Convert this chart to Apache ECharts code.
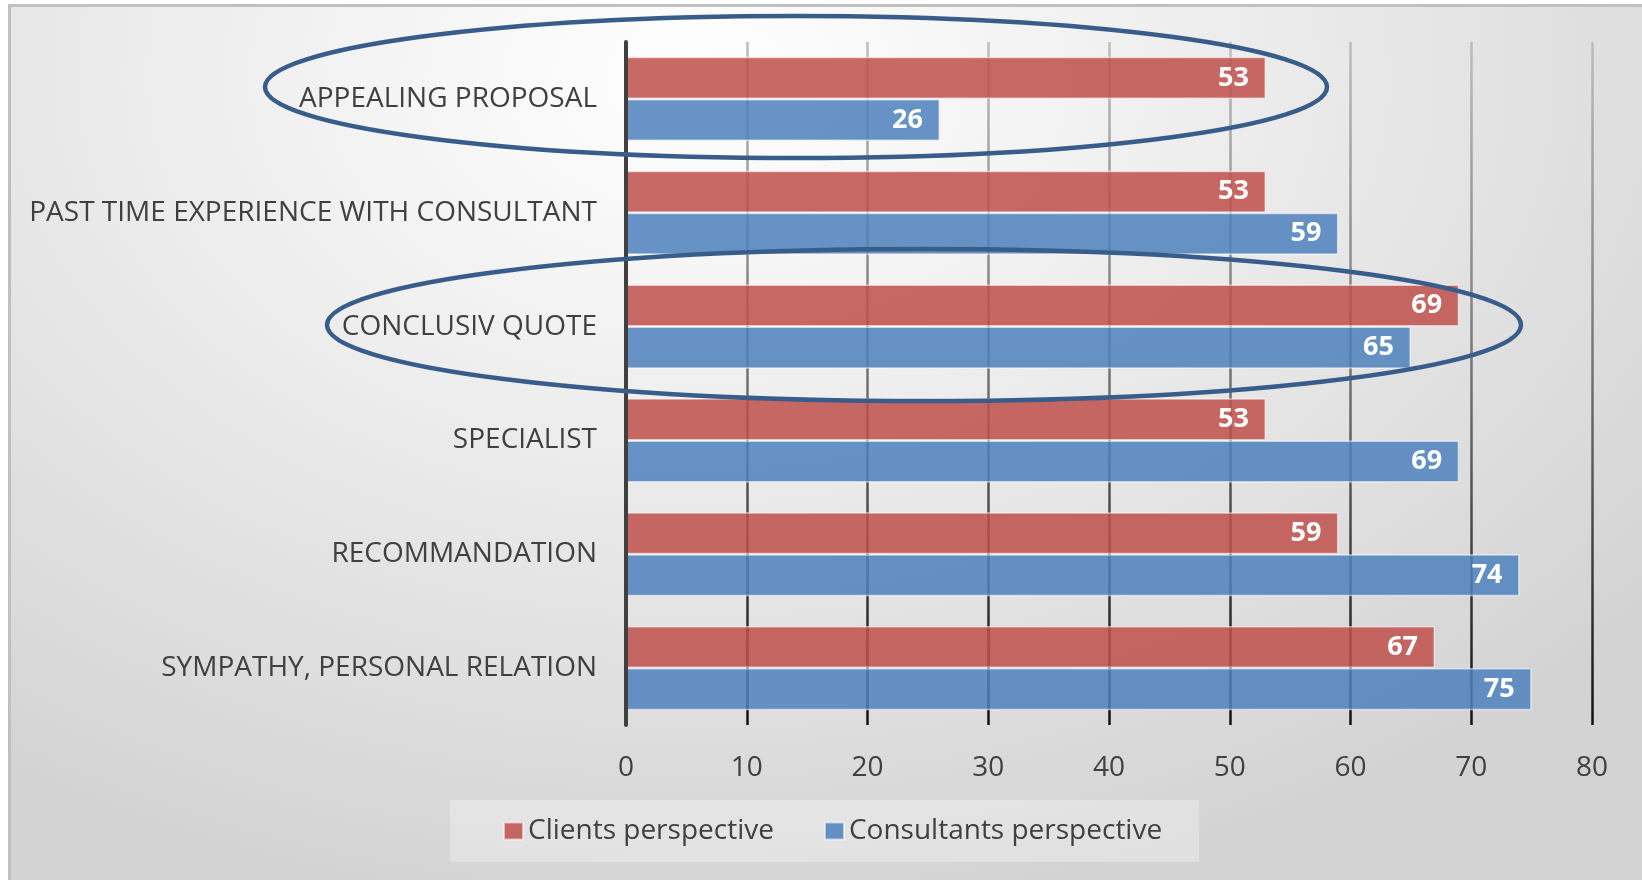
<!DOCTYPE html>
<html>
<head>
<meta charset="utf-8">
<script src="https://cdn.jsdelivr.net/npm/echarts@6/dist/echarts.min.js"></script>
<style>
  html, body { margin: 0; padding: 0; background: #fff; }
  #frame {
    position: absolute; left: 8px; top: 4px; width: 1640px; height: 890px;
    box-sizing: border-box; border: 3px solid #c0c0c0;
    background: radial-gradient(ellipse 75% 95% at 42% 8%, #ffffff 0%, #ececec 45%, #d3d3d3 100%);
  }
  #main { position: absolute; left: 0; top: 0; width: 1642px; height: 880px; }
</style>
</head>
<body>
<div id="frame"></div>
<div id="main"></div>
<script>
// categories top to bottom
const categories = [
  'APPEALING PROPOSAL',
  'PAST TIME EXPERIENCE WITH CONSULTANT',
  'CONCLUSIV QUOTE',
  'SPECIALIST',
  'RECOMMANDATION',
  'SYMPATHY, PERSONAL RELATION'
];
const clients = [53, 53, 69, 53, 59, 67];
const consultants = [26, 59, 65, 69, 74, 75];
const seriesNames = ['Clients perspective', 'Consultants perspective'];

const FONT = '"Open Sans", sans-serif';
const chart = echarts.init(document.getElementById('main'), null, { renderer: 'canvas' });

const barLabel = {
  show: true,
  position: 'insideRight',
  distance: 17,
  color: '#fff',
  fontWeight: 'bold',
  fontSize: 27,
  fontFamily: FONT
};

const option = {
  backgroundColor: 'transparent',
  animation: false,
  grid: { left: 626, right: 50, top: 42, bottom: 155, outerBoundsMode: 'none' },
  legend: {
    left: 450,
    top: 800,
    padding: [17, 37, 17, 53],
    backgroundColor: 'rgba(255,255,255,0.3)',
    itemWidth: 19,
    itemHeight: 17,
    itemGap: 50,
    icon: 'rect',
    textStyle: { fontSize: 28, color: '#404040', fontFamily: FONT },
    data: seriesNames
  },
  xAxis: {
    type: 'value',
    min: 0,
    max: 80,
    interval: 10,
    axisLine: { show: false },
    axisTick: { show: false },
    axisLabel: { fontSize: 28, color: '#404040', fontFamily: FONT, margin: 29 },
    splitLine: {
      lineStyle: {
        width: 2.5,
        color: new echarts.graphic.LinearGradient(0, 42, 0, 725, [
          { offset: 0, color: '#bdbdbd' },
          { offset: 0.5, color: '#707070' },
          { offset: 1, color: '#111' }
        ], true)
      }
    }
  },
  yAxis: {
    type: 'category',
    inverse: true,
    z: 3,
    data: categories,
    axisLine: { lineStyle: { color: '#404040', width: 4 } },
    axisTick: { show: false },
    axisLabel: { fontSize: 28, color: '#404040', fontFamily: FONT, margin: 29 }
  },
  series: [
    {
      name: seriesNames[0],
      type: 'bar',
      data: clients,
      barGap: '0%',
      barCategoryGap: '26%',
      itemStyle: { color: 'rgba(192,80,77,0.86)', borderColor: 'rgba(255,255,255,0.55)', borderWidth: 1.5 },
      label: barLabel
    },
    {
      name: seriesNames[1],
      type: 'bar',
      data: consultants,
      barGap: '0%',
      barCategoryGap: '26%',
      itemStyle: { color: 'rgba(79,129,189,0.86)', borderColor: 'rgba(255,255,255,0.55)', borderWidth: 1.5 },
      label: barLabel
    }
  ],
  graphic: [
    {
      type: 'ellipse', z: 100,
      shape: { cx: 796, cy: 87, rx: 531, ry: 71 },
      style: { fill: null, stroke: '#385d8a', lineWidth: 4.5 }
    },
    {
      type: 'ellipse', z: 100,
      shape: { cx: 924, cy: 325, rx: 597, ry: 76 },
      style: { fill: null, stroke: '#385d8a', lineWidth: 4.5 }
    }
  ]
};

chart.setOption(option);
</script>
</body>
</html>
